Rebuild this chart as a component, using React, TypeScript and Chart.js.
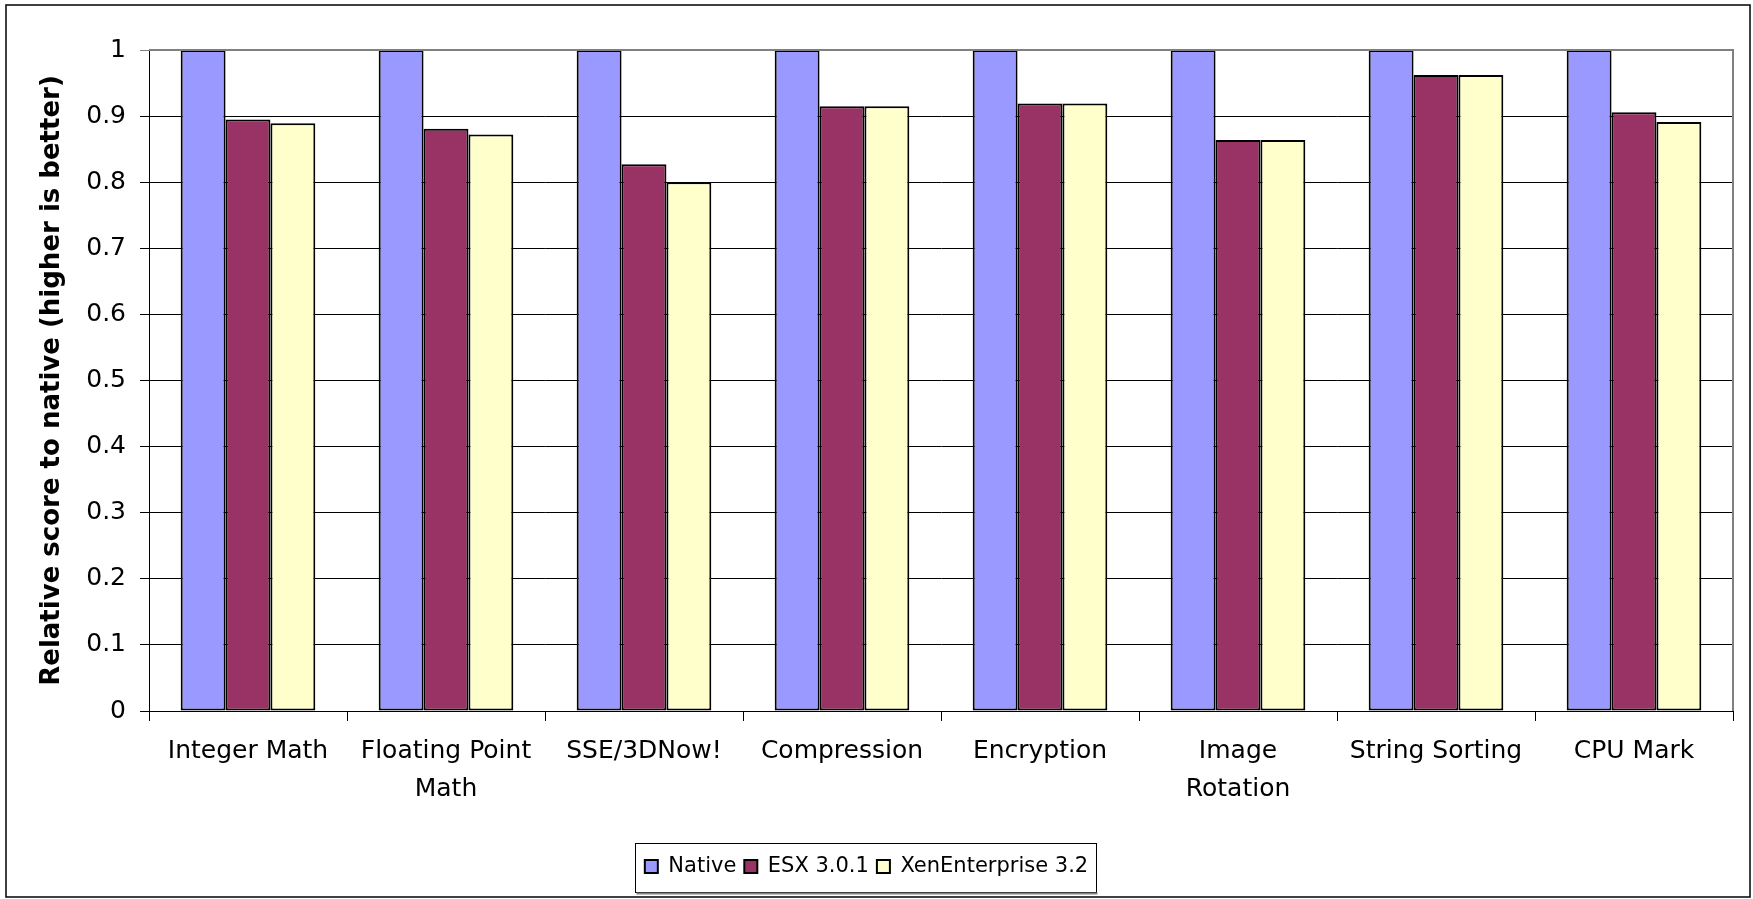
import React, { useEffect, useRef } from 'react';
import { Chart, registerables } from 'chart.js';

Chart.register(...registerables);

const categories: (string | string[])[] = [
  'Integer Math',
  ['Floating Point', 'Math'],
  'SSE/3DNow!',
  'Compression',
  'Encryption',
  ['Image', 'Rotation'],
  'String Sorting',
  'CPU Mark',
];
const seriesNames = ['Native', 'ESX 3.0.1', 'XenEnterprise 3.2'];
const nativeValues = [1, 1, 1, 1, 1, 1, 1, 1];
const esxValues = [0.895, 0.881, 0.827, 0.915, 0.919, 0.864, 0.962, 0.906];
const xenValues = [0.889, 0.872, 0.8, 0.915, 0.919, 0.864, 0.962, 0.891];
const seriesColors = ['#9999FF', '#993366', '#FFFFCC'];
const yAxisTitle = 'Relative score to native (higher is better)';
const yMin = 0;
const yMax = 1;
const yStep = 0.1;

const W = 1753;
const H = 899;
const FONT = "'DejaVu Sans', sans-serif";

const framePlugin = {
  id: 'frame',
  beforeDraw(chart: any) {
    const ctx = chart.ctx;
    ctx.save();
    ctx.fillStyle = '#ffffff';
    ctx.fillRect(0, 0, chart.width, chart.height);
    ctx.restore();
  },
  afterDraw(chart: any) {
    const ctx = chart.ctx;
    const a = chart.chartArea;
    ctx.save();
    // plot area border (top & right)
    ctx.strokeStyle = '#808080';
    ctx.lineWidth = 2;
    ctx.beginPath();
    ctx.moveTo(a.left, a.top);
    ctx.lineTo(a.right, a.top);
    ctx.lineTo(a.right, a.bottom);
    ctx.stroke();
    // outer chart frame
    ctx.strokeStyle = '#000000';
    ctx.lineWidth = 1.5;
    ctx.strokeRect(6, 5, 1744, 892);
    // legend frame
    const lg = chart.legend;
    if (lg && lg.legendHitBoxes && lg.legendHitBoxes.length) {
      let minX = Infinity, maxX = -Infinity, cy = 0;
      lg.legendHitBoxes.forEach((hb: any) => {
        minX = Math.min(minX, hb.left);
        maxX = Math.max(maxX, hb.left + hb.width);
        cy = hb.top + hb.height / 2;
      });
      const x0 = Math.round(minX - 10) + 0.5;
      const x1 = Math.round(maxX + 8) + 0.5;
      const y0 = Math.round(cy - 24) + 0.5;
      const y1 = Math.round(cy + 25) + 0.5;
      ctx.strokeStyle = '#000000';
      ctx.lineWidth = 1;
      ctx.strokeRect(x0, y0, x1 - x0, y1 - y0);
      ctx.strokeStyle = '#808080';
      ctx.lineWidth = 2;
      ctx.beginPath();
      ctx.moveTo(x0 + 1, y1 + 1);
      ctx.lineTo(x1 + 1, y1 + 1);
      ctx.stroke();
    }
    ctx.restore();
  },
};

export default function App() {
  const ref = useRef<HTMLCanvasElement | null>(null);

  useEffect(() => {
    document.body.style.margin = '0';
    document.body.style.overflow = 'hidden';
    const canvas = ref.current;
    if (!canvas) return;
    const datasets = [nativeValues, esxValues, xenValues].map((vals, i) => ({
      label: seriesNames[i],
      data: vals,
      backgroundColor: seriesColors[i],
      borderColor: '#000000',
      borderWidth: 2,
      borderSkipped: false,
      categoryPercentage: 0.68,
      barPercentage: 1.0,
    }));
    const chart = new Chart(canvas, {
      type: 'bar',
      data: { labels: categories, datasets },
      plugins: [framePlugin],
      options: {
        animation: false,
        responsive: false,
        devicePixelRatio: 1,
        layout: { padding: { top: 50, right: 20, left: 0, bottom: 12 } },
        plugins: {
          legend: {
            position: 'bottom',
            labels: {
              boxWidth: 13,
              boxHeight: 13,
              padding: 8,
              color: '#000',
              font: { family: FONT, size: 21 },
            },
          },
          tooltip: { enabled: false },
        },
        scales: {
          x: {
            grid: {
              display: true,
              drawOnChartArea: false,
              drawTicks: true,
              tickLength: 10,
              color: '#000',
              offset: true,
            },
            border: { display: true, color: '#000', width: 1 },
            ticks: {
              color: '#000',
              padding: 12,
              maxRotation: 0,
              autoSkip: false,
              font: { family: FONT, size: 25, lineHeight: 1.5 },
            },
            afterFit(scale: any) {
              scale.height = 137;
            },
          },
          y: {
            min: yMin,
            max: yMax,
            grid: {
              color: (c: any) => (c.tick && c.tick.value === yMax ? '#808080' : '#000'),
              lineWidth: 1,
              drawTicks: true,
              tickLength: 9,
            },
            border: { display: true, color: '#000', width: 1 },
            ticks: {
              stepSize: yStep,
              color: '#000',
              padding: 14,
              font: { family: FONT, size: 25 },
              callback: (v: any) => String(Number(Number(v).toFixed(1))),
            },
            title: {
              display: true,
              text: yAxisTitle,
              color: '#000',
              font: { family: FONT, size: 26, weight: 'bold' },
              padding: { top: 37, bottom: 0 },
            },
            afterFit(scale: any) {
              scale.width = 149;
            },
          },
        },
      } as any,
    });
    return () => chart.destroy();
  }, []);

  return (
    <div style={{ width: W, height: H }}>
      <canvas ref={ref} width={W} height={H} style={{ display: 'block' }} />
    </div>
  );
}
